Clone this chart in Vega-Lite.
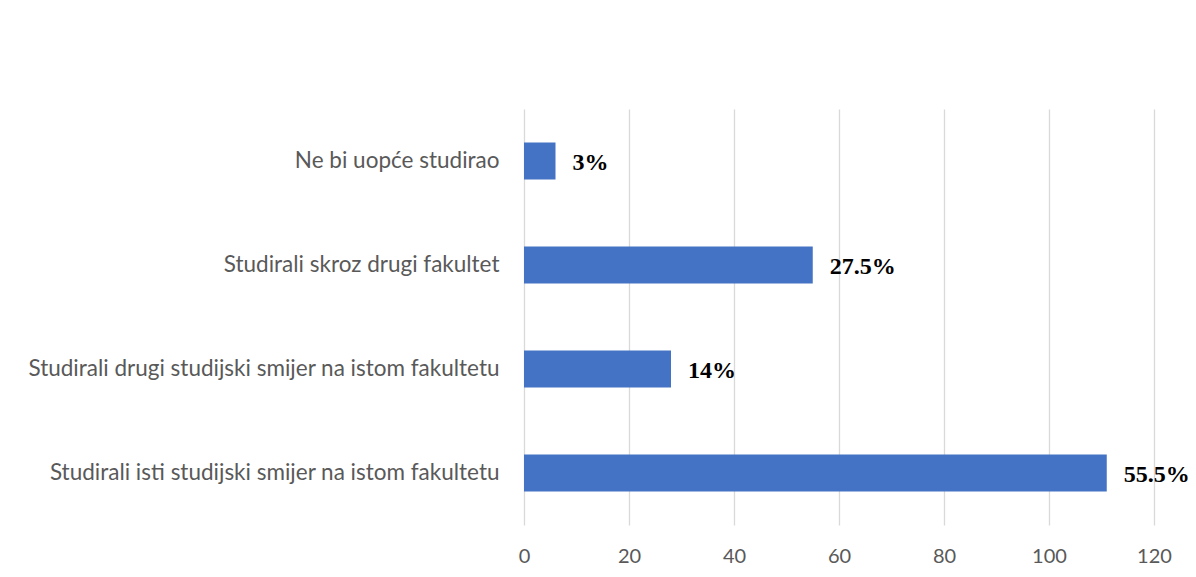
{
  "$schema": "https://vega.github.io/schema/vega-lite/v6.json",
  "width": 630,
  "height": 416,
  "autosize": {"type": "none"},
  "padding": {"left": 524, "top": 109, "right": 42, "bottom": 52},
  "background": "white",
  "config": {"view": {"stroke": null}},
  "data": {"values": [
    {"category": "Ne bi uopće studirao", "value": 6, "label": "3%"},
    {"category": "Studirali skroz drugi fakultet", "value": 55, "label": "27.5%"},
    {"category": "Studirali drugi studijski smijer na istom fakultetu", "value": 28, "label": "14%"},
    {"category": "Studirali isti studijski smijer na istom fakultetu", "value": 111, "label": "55.5%"}
  ]},
  "encoding": {
    "y": {
      "field": "category", "type": "nominal", "sort": null, "title": null,
      "scale": {"paddingInner": 0.645, "paddingOuter": 0.3225},
      "axis": {"domain": false, "ticks": false, "labelPadding": 25, "labelFont": "Lato", "labelFontSize": 22.5, "labelColor": "#595959", "labelLimit": 600}
    },
    "x": {
      "field": "value", "type": "quantitative", "title": null,
      "scale": {"domain": [0, 120], "nice": false},
      "axis": {"values": [0, 20, 40, 60, 80, 100, 120], "domain": false, "ticks": false, "grid": true, "gridColor": "#d9d9d9", "gridWidth": 1.3, "labelPadding": 21, "labelFont": "Lato", "labelFontSize": 20, "labelColor": "#595959", "labelFlush": false}
    }
  },
  "layer": [
    {"mark": {"type": "bar", "color": "#4472C4"}},
    {"mark": {"type": "text", "align": "left", "baseline": "middle", "dx": 17, "dy": 2, "font": "Liberation Serif", "fontWeight": "bold", "fontSize": 24, "color": "#000000"},
     "encoding": {"text": {"field": "label"}}}
  ]
}
